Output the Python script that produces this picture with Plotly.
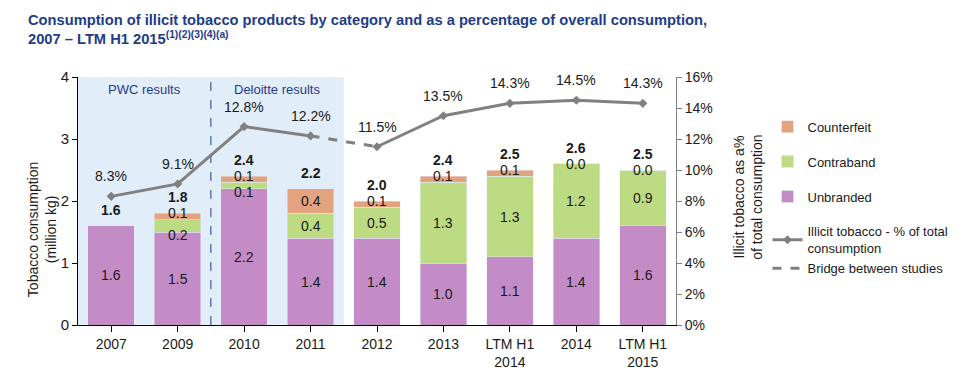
import plotly.graph_objects as go

categories = ["2007", "2009", "2010", "2011", "2012", "2013", "LTM H1<br>2014", "2014", "LTM H1<br>2015"]
unbranded = [1.6, 1.5, 2.2, 1.4, 1.4, 1.0, 1.1, 1.4, 1.6]
contraband = [None, 0.2, 0.1, 0.4, 0.5, 1.3, 1.3, 1.2, 0.9]
counterfeit = [None, 0.1, 0.1, 0.4, 0.1, 0.1, 0.1, 0.0, 0.0]
illicit_pct = [8.3, 9.1, 12.8, 12.2, 11.5, 13.5, 14.3, 14.5, 14.3]
bridge_from = 3  # index of 2011, bridge to 2012
study_groups = [("PWC results", 0, 1), ("Deloitte results", 2, 3)]

C_UNB = "#C48CC6"
C_CON = "#BDDB82"
C_CTF = "#E2A37E"
C_LINE = "#808080"
C_SHADE = "#E1EDF9"
C_BLUE = "#1E3C8A"
FONT = "Liberation Sans, Arial, sans-serif"

x = list(range(len(categories)))

def z(v):
    return [0 if a is None else a for a in v]

fig = go.Figure()

fig.add_trace(go.Bar(x=x, y=z(unbranded), name="Unbranded", marker_color=C_UNB,
                     width=0.7, legendrank=3, legendgroup="u", hoverinfo="skip"))
fig.add_trace(go.Bar(x=x, y=z(contraband), name="Contraband", marker_color=C_CON,
                     width=0.7, legendrank=2, legendgroup="c", hoverinfo="skip"))
fig.add_trace(go.Bar(x=x, y=z(counterfeit), name="Counterfeit", marker_color=C_CTF,
                     width=0.7, legendrank=1, legendgroup="f", hoverinfo="skip"))

xa = x[:bridge_from + 1]
xb = x[bridge_from + 1:]
fig.add_trace(go.Scatter(x=xa, y=illicit_pct[:bridge_from + 1], yaxis="y2", mode="lines+markers",
                         line=dict(color=C_LINE, width=3), marker=dict(symbol="diamond", size=7, color=C_LINE),
                         name="Illicit tobacco - % of total<br>consumption", legendrank=4, legendgroup="l"))
fig.add_trace(go.Scatter(x=xb, y=illicit_pct[bridge_from + 1:], yaxis="y2", mode="lines+markers",
                         line=dict(color=C_LINE, width=3), marker=dict(symbol="diamond", size=7, color=C_LINE),
                         showlegend=False, legendgroup="l"))
fig.add_trace(go.Scatter(x=x[bridge_from:bridge_from + 2], y=illicit_pct[bridge_from:bridge_from + 2], yaxis="y2",
                         mode="lines", line=dict(color=C_LINE, width=3, dash="dash"),
                         name="Bridge between studies", legendrank=5, legendgroup="l"))

annotations = []
lab_font = dict(family=FONT, size=14, color="#1a1a1a")
for i in x:
    u = unbranded[i]
    c = contraband[i]
    f = counterfeit[i]
    annotations.append(dict(x=i, y=u / 2, text=f"{u:.1f}", showarrow=False, font=lab_font))
    base = u
    if c is not None:
        yy = base if c < 0.25 else base + c / 2
        annotations.append(dict(x=i, y=yy, text=f"{c:.1f}", showarrow=False, font=lab_font, yshift=-3 if c < 0.25 else 0))
        base += c
    if f is not None:
        yy = base + f if f < 0.25 else base + f / 2
        annotations.append(dict(x=i, y=yy, text=f"{f:.1f}", showarrow=False, font=lab_font))
        base += f
    annotations.append(dict(x=i, y=base, text=f"<b>{base:.1f}</b>", showarrow=False, font=lab_font, yshift=16))
    annotations.append(dict(x=i, y=illicit_pct[i], yref="y2", text=f"{illicit_pct[i]:.1f}%", showarrow=False,
                            font=lab_font, yshift=20))

shapes = []
for name, a, b in study_groups:
    shapes.append(dict(type="rect", xref="x", yref="paper", x0=a - 0.5, x1=b + 0.5, y0=0, y1=1,
                       fillcolor=C_SHADE, line=dict(width=0), layer="below"))
    annotations.append(dict(x=(a + b) / 2, y=1, yref="paper", yanchor="top", yshift=-3, text=name,
                            showarrow=False, font=dict(family=FONT, size=13, color=C_BLUE)))
shapes.append(dict(type="line", xref="x", yref="paper", x0=study_groups[0][2] + 0.5, x1=study_groups[0][2] + 0.5,
                   y0=0, y1=1, line=dict(color=C_BLUE, width=1, dash="dash"), layer="below"))

# title
annotations.append(dict(
    text="<b>Consumption of illicit tobacco products by category and as a percentage of overall consumption,<br>"
         "2007 – LTM H1 2015<sup>(1)(2)(3)(4)(a)</sup></b>",
    xref="paper", yref="paper", x=-0.087, y=1.27, xanchor="left", yanchor="top", align="left",
    showarrow=False, font=dict(family=FONT, size=14.7, color=C_BLUE)))
# axis titles
annotations.append(dict(text="Tobacco consumption<br>(million kg)", xref="paper", yref="paper",
                        x=-0.060, y=0.383, xanchor="center", yanchor="middle", textangle=-90, showarrow=False,
                        font=dict(family=FONT, size=14, color="#1a1a1a")))
annotations.append(dict(text="Illicit tobacco as a%<br>of total consumption", xref="paper", yref="paper",
                        x=1.120, y=0.516, xanchor="center", yanchor="middle", textangle=-90, showarrow=False,
                        font=dict(family=FONT, size=14, color="#1a1a1a")))

fig.update_layout(
    width=971, height=368,
    margin=dict(l=70, r=303, t=69, b=51),
    paper_bgcolor="white", plot_bgcolor="rgba(0,0,0,0)",
    barmode="stack", bargap=0.3,
    font=dict(family=FONT, size=14, color="#1a1a1a"),
    xaxis=dict(tickmode="array", tickvals=x, ticktext=categories, range=[-0.5, len(x) - 0.5],
               showline=True, linecolor="black", linewidth=1, ticks="outside", tickson="boundaries",
               ticklen=6, tickcolor="black", showgrid=False, zeroline=False, automargin=False,
               tickfont=dict(family=FONT, size=14, color="#1a1a1a")),
    yaxis=dict(range=[0, 4], dtick=1, showline=True, linecolor="black", ticks="outside", ticklen=5,
               tickcolor="black", showgrid=False, zeroline=False, automargin=False,
               tickfont=dict(family=FONT, size=15, color="#1a1a1a")),
    yaxis2=dict(range=[0, 16], dtick=2, overlaying="y", side="right", ticksuffix="%",
                showline=True, linecolor=C_LINE, ticks="outside", ticklen=5, tickcolor=C_LINE,
                showgrid=False, zeroline=False, automargin=False,
                tickfont=dict(family=FONT, size=14, color="#1a1a1a")),
    legend=dict(x=1.153, y=0.86, xanchor="left", yanchor="top", traceorder="grouped",
                tracegroupgap=15, font=dict(family=FONT, size=13, color="#1a1a1a"),
                bgcolor="rgba(0,0,0,0)", itemwidth=30),
    shapes=shapes,
    annotations=annotations,
)

fig.write_html("out.html")
